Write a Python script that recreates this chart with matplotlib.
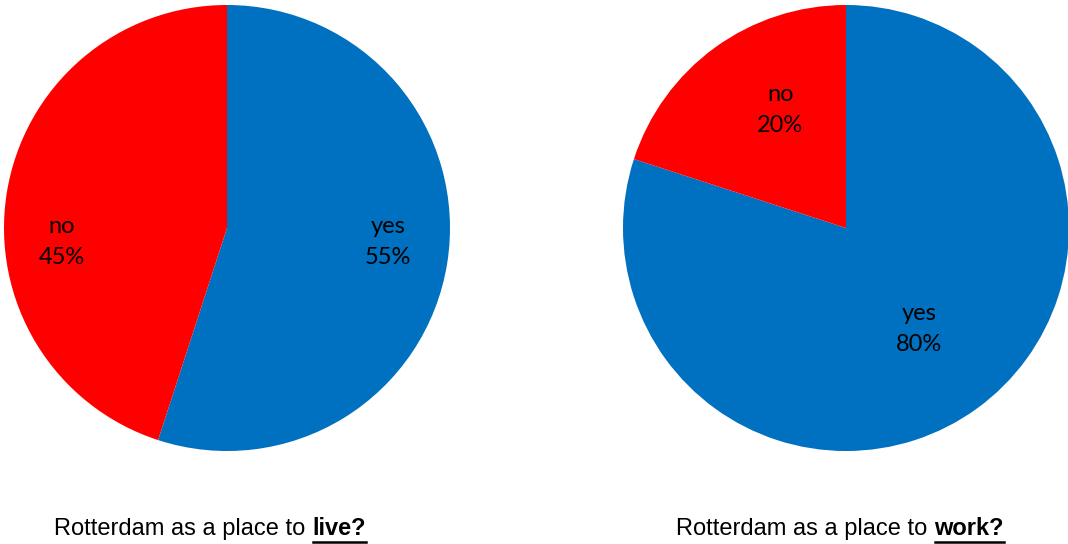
import matplotlib
matplotlib.use('Agg')
import matplotlib.pyplot as plt
import numpy as np
from matplotlib.lines import Line2D

# ==[0] Survey data
categories = ['yes', 'no']
live_share = [55, 45]
work_share = [80, 20]
colors = ['#0070C0', '#FF0000']
titles_plain = ['Rotterdam as a place to ', 'Rotterdam as a place to ']
titles_bold = ['live?', 'work?']

W, H = 1068, 544
fig = plt.figure(figsize=(W / 100, H / 100), dpi=100)

# ==[1] Pie axes, one per question (pixel centres and radius)
R = 223
centres = [(227, 228), (846, 228)]
label_dist = [[0.73, 0.75], [0.56, 0.5]]
label_shift = [[0.05, -0.18], [0.0, 0.125]]


def draw_pie(cx, cy, values, dists, shifts):
    ax = fig.add_axes([(cx - R) / W, 1 - (cy + R) / H, 2 * R / W, 2 * R / H])
    ax.pie(values, colors=colors, startangle=90, counterclock=False,
           radius=1, wedgeprops=dict(linewidth=0))
    ax.set_xlim(-1, 1)
    ax.set_ylim(-1, 1)
    ax.set_aspect('equal')
    ax.axis('off')
    # label each wedge at its middle angle
    start = 90.0
    for name, v, d, s in zip(categories, values, dists, shifts):
        mid = np.deg2rad(start - 360 * v / sum(values) / 2)
        start -= 360 * v / sum(values)
        ax.text(d * np.cos(mid), d * np.sin(mid) + s, f'{name}\n{v}%',
                ha='center', va='center', fontsize=17, family='Lato',
                linespacing=1.6)
    return ax


draw_pie(*centres[0], live_share, label_dist[0], label_shift[0])
draw_pie(*centres[1], work_share, label_dist[1], label_shift[1])

# ==[2] Captions with a bold, underlined keyword
fig.canvas.draw()
renderer = fig.canvas.get_renderer()
caption_x = [210, 840]
caption_y = 1 - 535 / H
for cx, plain, bold in zip(caption_x, titles_plain, titles_bold):
    t1 = fig.text(0, caption_y, plain, fontsize=17, family='Liberation Sans',
                  va='baseline', ha='left')
    t2 = fig.text(0, caption_y, bold, fontsize=17, family='Liberation Sans',
                  weight='bold', va='baseline', ha='left')
    w1 = t1.get_window_extent(renderer).width
    w2 = t2.get_window_extent(renderer).width
    x0 = cx - (w1 + w2) / 2
    t1.set_x(x0 / W)
    t2.set_x((x0 + w1) / W)
    uy = 1 - 541.5 / H
    fig.add_artist(Line2D([(x0 + w1 + 1) / W, (x0 + w1 + w2) / W], [uy, uy],
                          color='black', linewidth=1.8,
                          transform=fig.transFigure))

fig.savefig('out.png', dpi=100)
